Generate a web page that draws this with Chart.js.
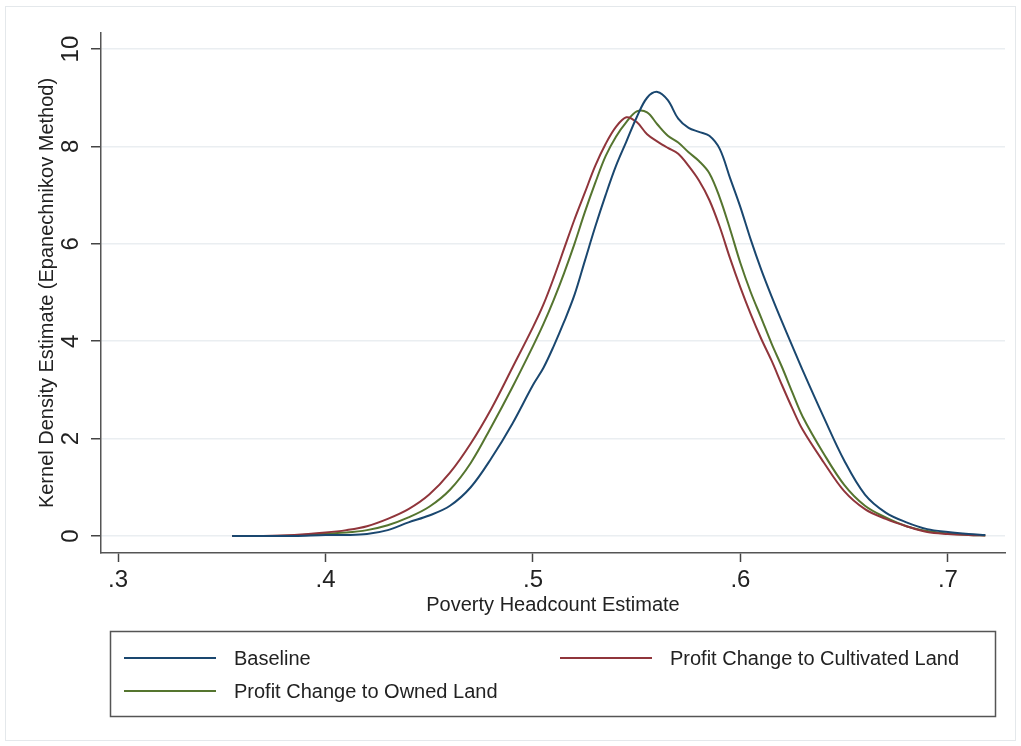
<!DOCTYPE html>
<html>
<head>
<meta charset="utf-8">
<script src="https://cdn.jsdelivr.net/npm/chart.js@4.4.1/dist/chart.umd.min.js"></script>
<style>
html, body { margin: 0; padding: 0; background: #fff; }
</style>
</head>
<body>
<canvas id="kd-chart" width="1021" height="746"></canvas>
<script>
// poverty headcount grid (x) and density estimates
var headcount = [0.355, 0.37, 0.385, 0.40, 0.41, 0.42, 0.43, 0.44, 0.45, 0.46, 0.47, 0.48, 0.49, 0.50,
                 0.505, 0.51, 0.515, 0.52, 0.525, 0.53, 0.535, 0.54, 0.545, 0.55, 0.555, 0.56, 0.565,
                 0.57, 0.575, 0.58, 0.585, 0.59, 0.595, 0.60, 0.605, 0.61, 0.615, 0.62, 0.625, 0.63, 0.64,
                 0.65, 0.66, 0.67, 0.68, 0.69, 0.70, 0.71, 0.718];

var baseline = [0, 0, 0, 0.02, 0.02, 0.04, 0.12, 0.28, 0.42, 0.62, 1.0, 1.6, 2.3, 3.1,
                3.45, 3.9, 4.4, 4.95, 5.65, 6.35, 7.0, 7.6, 8.1, 8.6, 9.0, 9.12, 8.95,
                8.57, 8.38, 8.3, 8.22, 7.95, 7.35, 6.75, 6.08, 5.47, 4.92, 4.4, 3.9, 3.4, 2.45,
                1.55, 0.85, 0.48, 0.28, 0.14, 0.08, 0.04, 0.02];

var cultivated = [0, 0, 0.02, 0.07, 0.12, 0.2, 0.35, 0.55, 0.85, 1.3, 1.9, 2.62, 3.45, 4.29,
                  4.75, 5.3, 5.9, 6.5, 7.05, 7.6, 8.05, 8.4, 8.6, 8.5, 8.25, 8.1, 7.97,
                  7.85, 7.6, 7.3, 6.9, 6.35, 5.7, 5.1, 4.55, 4.05, 3.6, 3.1, 2.62, 2.18, 1.52,
                  0.92, 0.55, 0.35, 0.2, 0.08, 0.04, 0.02, 0.01];

var owned = [0, 0, 0.01, 0.05, 0.07, 0.12, 0.22, 0.38, 0.6, 0.95, 1.5, 2.25, 3.05, 3.9,
             4.35, 4.85, 5.4, 6.0, 6.65, 7.25, 7.8, 8.2, 8.5, 8.72, 8.7, 8.45, 8.22,
             8.08, 7.88, 7.7, 7.45, 6.95, 6.3, 5.6, 5.0, 4.48, 3.95, 3.47, 2.95, 2.45, 1.7,
             1.05, 0.62, 0.38, 0.2, 0.1, 0.05, 0.02, 0.01];

var seriesNames = ['Baseline', 'Profit Change to Cultivated Land', 'Profit Change to Owned Land'];
var seriesColors = ['#1a476f', '#90353b', '#55752f'];

var xTicks = [0.3, 0.4, 0.5, 0.6, 0.7];
var yTicks = [0, 2, 4, 6, 8, 10];

function points(ys)
{
    var out = [];
    for (let i in headcount)
    {
        out.push({x: headcount[i], y: ys[i]});
    }
    return out;
}

// faint outer frame round the whole graph
var framePlugin = {
    id: 'frame',
    beforeDraw: function(chart)
    {
        var ctx = chart.ctx;
        ctx.save();
        ctx.strokeStyle = '#e4e8eb';
        ctx.lineWidth = 1;
        ctx.strokeRect(5.5, 6.5, 1010, 734);
        ctx.restore();
    }
};

// stata style boxed legend in two columns
var legendPlugin = {
    id: 'boxLegend',
    afterDraw: function(chart)
    {
        var ctx = chart.ctx;
        var slots = [[124, 658], [560, 658], [124, 691]];
        ctx.save();
        ctx.strokeStyle = '#555';
        ctx.lineWidth = 1.5;
        ctx.strokeRect(110.5, 631.5, 885, 85);
        ctx.font = '20px "Liberation Sans", Arial, sans-serif';
        ctx.textBaseline = 'middle';
        ctx.fillStyle = '#222';
        chart.data.datasets.forEach(function(ds, i)
        {
            var sx = slots[i][0], sy = slots[i][1];
            ctx.strokeStyle = ds.borderColor;
            ctx.lineWidth = 2;
            ctx.beginPath();
            ctx.moveTo(sx, sy);
            ctx.lineTo(sx + 92, sy);
            ctx.stroke();
            ctx.fillText(ds.label, sx + 110, sy + 1);
        });
        ctx.restore();
    }
};

var datasets = [];
var allSeries = [baseline, cultivated, owned];
for (let i in allSeries)
{
    datasets.push({
        label: seriesNames[i],
        data: points(allSeries[i]),
        borderColor: seriesColors[i],
        borderWidth: 2,
        pointRadius: 0,
        fill: false,
        tension: 0.35
    });
}

var kd_chart = document.getElementById('kd-chart').getContext('2d');
var render_kd_chart = new Chart(kd_chart,
{
    type: 'line',
    data: { datasets: datasets },
    plugins: [framePlugin, legendPlugin],
    options:
    {
        responsive: false,
        animation: false,
        layout: { padding: { left: 35, top: 33, right: 16, bottom: 129 } },
        plugins: {
            legend: { display: false },
            tooltip: { enabled: false }
        },
        scales: {
            x: {
                type: 'linear',
                min: 0.2918,
                max: 0.7275,
                afterBuildTicks: function(s) { s.ticks = xTicks.map(function(v) { return {value: v}; }); },
                afterFit: function(s) { s.height = 64; },
                ticks: {
                    color: '#222',
                    padding: 4,
                    font: { size: 24, family: '"Liberation Sans", Arial, sans-serif' },
                    callback: function(v) { return String(v).replace('0.', '.'); }
                },
                grid: { drawOnChartArea: false, tickLength: 9, tickColor: '#444', tickWidth: 1.5 },
                border: { color: '#555', width: 1.5 },
                title: {
                    display: true,
                    text: 'Poverty Headcount Estimate',
                    color: '#222',
                    padding: 0,
                    font: { size: 20, family: '"Liberation Sans", Arial, sans-serif' }
                }
            },
            y: {
                min: -0.35,
                max: 10.33,
                afterBuildTicks: function(s) { s.ticks = yTicks.map(function(v) { return {value: v}; }); },
                afterFit: function(s) { s.width = 66; },
                ticks: {
                    color: '#222',
                    minRotation: 90,
                    maxRotation: 90,
                    crossAlign: 'center',
                    padding: 6,
                    font: { size: 24, family: '"Liberation Sans", Arial, sans-serif' }
                },
                grid: { color: '#eaeef1', lineWidth: 1.5, tickLength: 10, tickColor: '#444', tickWidth: 1.5 },
                border: { color: '#555', width: 1.5 },
                title: {
                    display: true,
                    text: 'Kernel Density Estimate (Epanechnikov Method)',
                    color: '#222',
                    padding: 0,
                    font: { size: 20, family: '"Liberation Sans", Arial, sans-serif' }
                }
            }
        }
    }
}); // CHART
</script>
</body>
</html>
